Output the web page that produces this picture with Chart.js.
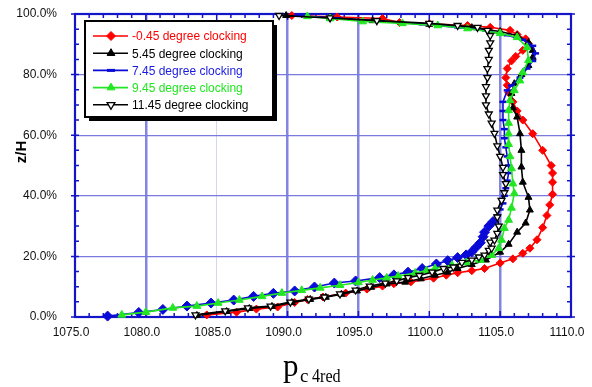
<!DOCTYPE html>
<html>
<head>
<meta charset="utf-8">
<script src="https://cdn.jsdelivr.net/npm/chart.js@4.4.0/dist/chart.umd.min.js"></script>
<style>
  html, body { margin: 0; padding: 0; background: #fff; }
  #wrap { width: 592px; height: 387px; }
</style>
</head>
<body>
<div id="wrap"><canvas id="chart" width="592" height="387"></canvas></div>
<script>
// pressure p (x) against height z/H in % (y), listed bottom to top
const redP = [1084.3,1086.4,1087.8,1089.3,1090.5,1091.4,1092.5,1094.1,1095.6,1096.7,1097.5,1098.7,1100.3,1101.2,1102.0,1103.0,1103.9,1105.0,1105.9,1106.6,1107.1,1107.6,1108.0,1108.3,1108.5,1108.7,1108.7,1108.7,1108.6,1108.0,1107.3,1106.6,1106.2,1105.9,1105.6,1105.5,1105.4,1105.5,1105.8,1106.1,1106.6,1107.0,1106.8,1106.2,1105.7,1104.3,1102.7,1100.0,1097.9,1096.7,1093.5,1090.3];
const redZ = [0.7,1.6,2.6,3.3,4.8,5.8,6.6,7.9,9.2,10.2,11.0,11.6,12.8,13.8,14.6,15.3,16.0,17.8,19.2,21.0,22.7,25.5,29.5,33.5,37.0,40.5,44.5,47.5,50.0,55.0,60.5,65.0,68.0,71.0,74.0,76.5,79.0,82.0,84.5,86.0,88.0,90.2,91.8,93.2,94.6,95.6,96.2,96.8,97.2,98.5,99.0,99.5];

const b5P = [1083.6,1085.7,1087.3,1088.9,1090.3,1091.6,1092.7,1093.8,1094.9,1095.9,1097.0,1098.3,1099.4,1100.4,1101.3,1102.0,1103.0,1104.0,1105.0,1105.6,1106.2,1106.8,1107.1,1107.0,1106.6,1106.5,1106.5,1106.4,1106.2,1105.9,1105.8,1106.0,1106.5,1107.0,1107.3,1107.3,1107.0,1106.2,1105.0,1103.0,1100.0,1096.0,1093.0,1089.9];
const b5Z = [0.5,1.8,2.8,3.5,4.8,5.8,6.5,7.5,8.6,9.8,10.9,11.5,12.6,13.8,14.8,16.0,17.3,18.8,21.4,24.0,28.0,31.0,35.3,39.5,44.5,49.5,55.0,60.5,66.0,69.0,73.8,77.0,80.0,83.0,85.7,88.0,90.6,92.9,94.2,95.5,96.6,97.8,98.8,99.5];

const bluP = [1077.3,1079.5,1081.2,1082.9,1084.6,1086.2,1087.6,1089.0,1090.5,1091.9,1093.3,1094.8,1096.5,1097.5,1098.5,1099.5,1100.5,1101.3,1102.0,1102.6,1103.0,1103.3,1103.6,1103.8,1103.9,1104.2,1104.5,1104.8,1105.0,1105.2,1105.3,1105.4,1105.5,1105.6,1105.6,1105.5,1105.4,1105.3,1105.3,1105.2,1105.2,1105.2,1105.5,1105.8,1106.4,1106.9,1107.3,1107.5,1107.3,1106.6,1105.5,1104.0,1102.0,1099.5,1096.5,1093.5,1090.7];
const bluZ = [0.3,1.5,2.5,3.6,4.6,5.6,6.8,7.8,8.6,9.9,11.2,11.9,13.0,13.9,14.8,16.0,17.5,18.6,19.6,20.5,21.5,23.0,24.5,26.5,28.0,30.0,31.5,33.5,35.5,37.5,40.0,42.5,45.0,47.5,50.0,53.0,56.0,59.0,62.0,65.0,68.0,71.0,74.8,76.4,79.0,82.0,84.5,87.0,89.5,91.5,93.0,94.5,95.6,96.6,97.6,98.6,99.5];

const grnP = [1078.3,1080.0,1081.9,1083.6,1085.1,1086.6,1088.2,1089.6,1091.0,1092.3,1093.7,1095.0,1096.0,1097.0,1097.8,1099.0,1099.8,1100.4,1101.6,1102.6,1103.6,1104.4,1104.9,1105.1,1105.3,1105.6,1105.8,1106.0,1105.9,1105.8,1105.7,1105.6,1105.6,1105.6,1105.6,1105.7,1106.0,1106.4,1106.6,1107.0,1106.9,1106.2,1105.0,1102.7,1100.6,1098.1,1095.3,1093.0,1091.4];
const grnZ = [0.7,1.6,3.0,3.6,4.6,5.6,6.8,7.9,8.8,9.6,10.5,11.4,12.2,12.9,13.5,14.5,15.3,16.0,17.1,18.0,18.8,20.4,22.7,25.4,29.3,32.0,36.0,40.8,44.0,49.0,53.0,57.0,60.5,64.0,68.2,71.5,74.8,78.0,80.7,84.7,89.0,92.3,93.6,95.2,96.2,96.9,97.5,98.5,99.2];

const b11P = [1083.5,1085.6,1087.2,1088.8,1090.2,1091.5,1092.6,1093.7,1094.8,1095.8,1096.9,1097.7,1098.5,1099.3,1100.2,1101.0,1101.7,1102.3,1103.0,1103.5,1103.9,1104.2,1104.4,1104.3,1104.6,1104.8,1104.9,1104.8,1104.8,1105.1,1105.3,1105.4,1105.2,1105.2,1105.0,1104.8,1104.6,1104.4,1104.2,1104.0,1104.0,1104.0,1104.1,1104.1,1104.2,1104.2,1104.3,1104.3,1104.1,1103.4,1102.0,1100.0,1096.3,1093.0,1089.4];
const b11Z = [0.7,2.0,3.0,3.6,4.9,5.9,6.6,7.6,8.9,10.2,11.2,11.9,13.0,13.7,14.8,16.0,16.5,18.0,18.8,19.8,20.4,22.0,22.7,24.7,25.4,27.6,30.0,33.0,35.3,38.5,41.0,44.0,47.0,49.4,53.0,56.5,60.6,64.0,67.0,70.0,73.0,76.0,79.0,82.0,85.0,88.0,90.5,92.9,94.6,95.6,96.2,96.9,97.8,98.7,99.5];

const seriesNames = ['-0.45 degree clocking', '5.45 degree clocking', '7.45 degree clocking', '9.45 degree clocking', '11.45 degree clocking'];
const xRange = [1075, 1110];
const yRange = [0, 100];

const axisColor = '#1414c8';
const labelFont = '"Liberation Sans", Arial, sans-serif';

function pts(px, pz) {
    return px.map((p, i) => ({ x: p, y: pz[i] }));
}

// blue markers: diamonds low down, short dashes higher up
const bluStyle = c => (c.raw && c.raw.y > 33) ? 'line' : 'rectRot';

const datasets = [
    { label: seriesNames[0], data: pts(redP, redZ), borderColor: '#ff0000', backgroundColor: '#ff0000',
      pointStyle: 'rectRot', pointRadius: 4, pointBorderWidth: 1, order: 5 },
    { label: seriesNames[1], data: pts(b5P, b5Z), borderColor: '#000000', backgroundColor: '#000000',
      pointStyle: 'triangle', pointRadius: 4, pointBorderWidth: 1, order: 4 },
    { label: seriesNames[2], data: pts(bluP, bluZ), borderColor: '#0a0ad8', backgroundColor: '#0a0ad8',
      pointStyle: bluStyle, pointRadius: c => (c.raw && c.raw.y > 33) ? 3.5 : 5, pointBorderWidth: c => (c.raw && c.raw.y > 33) ? 2.5 : 1, order: 3 },
    { label: seriesNames[3], data: pts(grnP, grnZ), borderColor: '#22e622', backgroundColor: '#22e622',
      pointStyle: 'triangle', pointRadius: 4.5, pointBorderWidth: 1, order: 2 },
    { label: seriesNames[4], data: pts(b11P, b11Z), borderColor: '#000000', backgroundColor: '#ffffff',
      pointStyle: 'triangle', pointRotation: 180, pointRadius: 4, pointBorderWidth: 1.3, order: 1 }
];
datasets.forEach(d => {
    d.showLine = true;
    d.borderWidth = 1.6;
    d.tension = 0;
    d.clip = false;
    d.pointBorderColor = d.borderColor;
    d.pointBackgroundColor = d.backgroundColor;
});

// frame with minor ticks on all four sides
const framePlugin = {
    id: 'frame',
    beforeDatasetsDraw(chart) {
        const { ctx, chartArea: a, scales: { x, y } } = chart;
        ctx.save();
        ctx.strokeStyle = axisColor;
        ctx.lineWidth = 1.5;
        ctx.beginPath();
        for (let v = xRange[0]; v <= xRange[1]; v += 1) {
            const px = x.getPixelForValue(v);
            const len = v % 5 === 0 ? 6 : 4;
            ctx.moveTo(px, a.bottom); ctx.lineTo(px, a.bottom - len);
            ctx.moveTo(px, a.top); ctx.lineTo(px, a.top + len);
        }
        for (let v = yRange[0]; v <= yRange[1]; v += 5) {
            const py = y.getPixelForValue(v);
            const major = v % 20 === 0;
            ctx.moveTo(a.left - (major ? 4 : 0), py); ctx.lineTo(a.left + 4, py);
            ctx.moveTo(a.right + (major ? 4 : 0), py); ctx.lineTo(a.right - 4, py);
        }
        ctx.stroke();
        ctx.lineWidth = 2.2;
        ctx.strokeRect(a.left, a.top, a.width, a.height);
        ctx.restore();
    }
};

// axis titles and the boxed legend
const decorPlugin = {
    id: 'decor',
    afterDraw(chart) {
        const ctx = chart.ctx;
        ctx.save();
        // y title
        ctx.translate(22, 152);
        ctx.rotate(-Math.PI / 2);
        ctx.fillStyle = '#000';
        ctx.font = 'bold 15px ' + labelFont;
        ctx.textAlign = 'center';
        ctx.textBaseline = 'middle';
        ctx.fillText('z/H', 0, 0);
        ctx.restore();

        // x title p with subscript
        ctx.save();
        ctx.fillStyle = '#000';
        ctx.textBaseline = 'alphabetic';
        ctx.font = '31px "Liberation Serif", "Times New Roman", serif';
        ctx.fillText('p', 283, 376);
        ctx.font = '19px "Liberation Serif", "Times New Roman", serif';
        ctx.fillText('c', 300, 382);
        ctx.save();
        ctx.translate(312, 382);
        ctx.scale(0.85, 1);
        ctx.fillText('4red', 0, 0);
        ctx.restore();
        ctx.restore();

        // legend
        const bx = 85, by = 21, bw = 188, bh = 96;
        ctx.save();
        ctx.fillStyle = '#000';
        ctx.fillRect(bx + 4, by + 4, bw, bh);
        ctx.fillStyle = '#fff';
        ctx.fillRect(bx, by, bw, bh);
        ctx.strokeStyle = '#000';
        ctx.lineWidth = 2;
        ctx.strokeRect(bx, by, bw, bh);
        const textColors = ['#ff0000', '#000000', '#1a1ae0', '#22e622', '#000000'];
        ctx.font = '12px ' + labelFont;
        ctx.textBaseline = 'middle';
        datasets.forEach((d, i) => {
            const ry = 36 + i * 17.2;
            ctx.strokeStyle = d.borderColor;
            ctx.lineWidth = 1.6;
            ctx.beginPath();
            ctx.moveTo(93, ry); ctx.lineTo(128, ry);
            ctx.stroke();
            ctx.fillStyle = d.pointBackgroundColor;
            const style = i === 2 ? 'line' : d.pointStyle;
            ctx.lineWidth = i === 2 ? 3 : d.pointBorderWidth;
            Chart.helpers.drawPoint(ctx, {
                pointStyle: style,
                rotation: d.pointRotation || 0,
                radius: i === 2 ? 4 : 4.5,
                borderWidth: ctx.lineWidth
            }, 111, ry);
            ctx.fillStyle = textColors[i];
            ctx.fillText(d.label, 132, ry + 1);
        });
        ctx.restore();
    }
};

const thickX = [1080, 1090, 1095, 1105];

new Chart(document.getElementById('chart'), {
    type: 'scatter',
    data: { datasets: datasets },
    plugins: [framePlugin, decorPlugin],
    options: {
        responsive: false,
        animation: false,
        layout: { padding: { top: 14, right: 21, left: 0, bottom: 0 } },
        plugins: { legend: { display: false }, tooltip: { enabled: false } },
        scales: {
            x: {
                type: 'linear',
                min: xRange[0],
                max: xRange[1],
                afterFit: s => { s.height = 70; s.paddingLeft = 0; s.paddingRight = 0; },
                border: { display: false },
                grid: {
                    drawTicks: false,
                    color: c => thickX.includes(c.tick.value) ? '#8484e2' : '#d6d6f4',
                    lineWidth: c => thickX.includes(c.tick.value) ? 2.5 : 1
                },
                ticks: {
                    stepSize: 5,
                    padding: 8,
                    labelOffset: -4,
                    color: '#111',
                    font: { family: labelFont, size: 12 },
                    callback: v => v.toFixed(1)
                }
            },
            y: {
                type: 'linear',
                min: yRange[0],
                max: yRange[1],
                afterFit: s => { s.width = 75; s.paddingTop = 0; s.paddingBottom = 0; },
                border: { display: false },
                grid: { drawTicks: false, color: '#7a7ade', lineWidth: 1.2 },
                ticks: {
                    stepSize: 20,
                    padding: 18,
                    color: '#111',
                    font: { family: labelFont, size: 12 },
                    callback: v => v.toFixed(1) + '%'
                }
            }
        }
    }
});
</script>
</body>
</html>
